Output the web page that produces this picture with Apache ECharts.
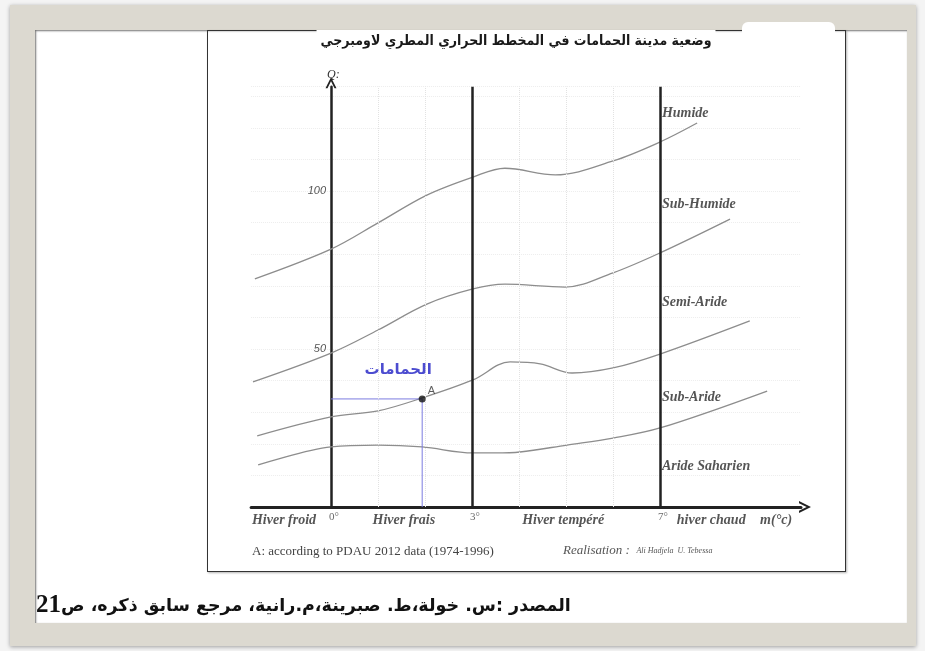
<!DOCTYPE html>
<html><head><meta charset="utf-8">
<script src="https://cdn.jsdelivr.net/npm/echarts@6/dist/echarts.min.js"></script>
<style>
html,body{margin:0;padding:0;background:#f4f4f4;width:925px;height:651px;overflow:hidden}
#bezel{position:absolute;left:10px;top:5px;width:906px;height:641px;background:#dcd9d0;box-shadow:0 1px 4px rgba(0,0,0,0.35)}
#paper{position:absolute;left:35px;top:30px;width:872px;height:593px;background:#fff;box-shadow:inset 1px 1px 2px rgba(0,0,0,0.55)}
#frame{position:absolute;left:207px;top:30px;width:637px;height:540px;border:1.5px solid #333;box-shadow:1px 1px 2px rgba(0,0,0,.3)}
#patch{position:absolute;left:742px;top:22px;width:93px;height:18px;background:#fff;border-radius:6px}
#chart{position:absolute;left:0;top:0;width:925px;height:651px}
</style></head>
<body>
<div id="bezel"></div><div id="paper"></div><div id="frame"></div><div id="patch"></div>
<div id="chart"></div>
<script>
// ---- data (m in °C, Q Emberger quotient) ----
const curveHumide = [[-1.62,72.2],[0,81.6],[1,89.9],[2.04,98.7],[3.02,104.4],[3.7,107.2],[4.77,105.1],[6,109.5],[7,115.5],[7.79,121.5]];
const curveSubHumide = [[-1.66,39.6],[0,48.7],[1,56.0],[2.04,64.2],[3.02,69.0],[3.7,70.5],[4.98,69.6],[6,74.1],[7,80.4],[8.49,91.1]];
const curveSemiAride = [[-1.57,22.5],[0,28.5],[1,30.4],[1.94,34.5],[3.02,40.2],[3.81,45.9],[4.45,45.3],[5.13,42.4],[6,44.0],[7,48.4],[8.91,58.9]];
const curveSubAride = [[-1.55,13.3],[0,19.0],[1,19.6],[1.94,19.0],[3.02,17.1],[3.49,17.1],[4.02,17.4],[5.02,19.6],[6,21.8],[7,25.0],[9.28,36.7]];

const stationName = 'الحمامات';
const stationA = [1.94, 34.2];
const stationLabelPos = [1.43, 43.4];

const zoneNames = ['Humide','Sub-Humide','Semi-Aride','Sub-Aride','Aride Saharien'];
const zoneLabelM = 7.04;
const zoneLabelQ = [124.7, 95.6, 64.6, 34.8, 12.7];

const winterNames = ['Hiver froid','Hiver frais','Hiver tempéré','hiver chaud','m(°c)'];
const winterLabelM = [-1.0, 1.55, 4.94, 8.09, 9.47];
const winterLabelQ = -4.1;

const boundaryM = [3, 7];
const degreeTicks = [0, 3, 7];
const degreeLabelQ = -3.3;
const gridM = [1, 2, 4, 5, 6];
const yLabels = [50, 100];

const titleText = 'وضعية مدينة الحمامات في المخطط الحراري المطري لاومبرجي';
const noteText = 'A: according to PDAU 2012 data (1974-1996)';
const sourceText = 'المصدر :س. خولة،ط. صبرينة،م.رانية، مرجع سابق ذكره، ص';
const sourcePage = '21';

// ---- chart ----
const chev = 'path://M0,10 L5,0 L10,10 L8.2,10 L5,3.6 L1.8,10 Z';
const serifBI = {fontFamily:'Liberation Serif', fontWeight:'bold', fontStyle:'italic', color:'#2a2a2a'};
const curveStyle = {color:'#8d8d8d', width:1.3};
function curve(name, d){
  return {name, type:'line', data:d, smooth:0.35, showSymbol:false, symbol:'none',
    lineStyle:curveStyle, silent:true, z:3};
}
const chart = echarts.init(document.getElementById('chart'), null, {renderer:'canvas'});
const option = {
  animation:false,
  backgroundColor:'transparent',
  grid:{left:251.1, right:124, top:86.7, bottom:144},
  xAxis:{type:'value', min:-1.7, max:10,
    axisLine:{onZero:true, symbol:['none', chev], symbolSize:[12,14], symbolOffset:[0,4], lineStyle:{color:'#222', width:3}},
    axisTick:{show:false}, axisLabel:{show:false}, splitLine:{show:false}},
  yAxis:{type:'value', min:0, max:133, interval:10, offset:0,
    name:'Q:', nameLocation:'end', nameGap:6,
    nameTextStyle:{fontFamily:'Liberation Serif', fontStyle:'italic', fontSize:12, color:'#333', align:'left', padding:[0,0,0,-4]},
    axisLine:{onZero:false, symbol:['none', chev], symbolSize:[11,13], symbolOffset:[0,4], lineStyle:{color:'#222', width:2.5}},
    axisTick:{show:false},
    axisLabel:{formatter:v => yLabels.includes(v) ? String(v) : '', color:'#555', fontStyle:'italic', fontFamily:'Liberation Sans', fontSize:11, margin:5},
    splitLine:{show:true, lineStyle:{color:'#ededed', type:'dotted', width:1}}},
  series:[
    {type:'line', data:[], silent:true, z:1,
      markLine:{silent:true, symbol:'none', label:{show:false},
        lineStyle:{color:'#e2e2e2', type:'dotted', width:1},
        data:gridM.map(v => ({xAxis:v}))}},
    curve('Humide', curveHumide),
    curve('Sub-Humide', curveSubHumide),
    curve('Semi-Aride', curveSemiAride),
    curve('Sub-Aride', curveSubAride),
    {type:'line', data:[], silent:true, z:5,
      markLine:{silent:true, symbol:'none', label:{show:false},
        lineStyle:{color:'#222', type:'solid', width:2.5},
        data:boundaryM.map(v => ({xAxis:v}))}},
    {type:'line', data:[[0, stationA[1]], stationA, [stationA[0], 0]], symbol:'none', silent:true, z:4,
      lineStyle:{color:'#7b7be0', width:1}},
    {type:'scatter', data:[stationA], symbolSize:7, itemStyle:{color:'#111'}, z:6, silent:true,
      label:{show:true, formatter:'A', position:'right', distance:2, offset:[0,-8], color:'#333', fontFamily:'Liberation Sans', fontSize:11}},
    {type:'scatter', clip:false, silent:true, symbolSize:0, z:7,
      data:[{name:stationName, value:stationLabelPos}],
      label:{show:true, formatter:'{b}', position:[0,0], align:'center', verticalAlign:'middle',
        color:'#1f1fc4', fontFamily:'DejaVu Sans', fontWeight:'bold', fontSize:15}},
    {type:'scatter', clip:false, silent:true, symbolSize:0, z:7,
      data:zoneNames.map((n,i) => ({name:n, value:[zoneLabelM, zoneLabelQ[i]]})),
      label:{show:true, formatter:'{b}', position:[0,0], align:'left', verticalAlign:'middle', fontSize:14, ...serifBI}},
    {type:'scatter', clip:false, silent:true, symbolSize:0, z:7,
      data:winterNames.map((n,i) => ({name:n, value:[winterLabelM[i], winterLabelQ]})),
      label:{show:true, formatter:'{b}', position:[0,0], align:'center', verticalAlign:'middle', fontSize:14, ...serifBI}},
    {type:'scatter', clip:false, silent:true, symbolSize:0, z:7,
      data:degreeTicks.map(v => ({name:v + '°', value:[v, degreeLabelQ]})),
      label:{show:true, formatter:'{b}', position:[0,0], offset:[3,0], align:'center', verticalAlign:'middle',
        fontFamily:'Liberation Serif', fontSize:11, color:'#444'}}
  ],
  graphic:[
    {type:'text', x:516, y:41, silent:true, z:10,
      style:{text:titleText, align:'center', verticalAlign:'middle', fill:'#1a1a1a', font:'bold 14px "DejaVu Sans Condensed", "DejaVu Sans"',
        backgroundColor:'#fff', padding:[3,4,5,4]}},
    {type:'text', x:252, y:552, silent:true,
      style:{text:noteText, align:'left', verticalAlign:'middle', fill:'#444', font:'13px "Liberation Serif"'}},
    {type:'text', x:563, y:551, silent:true,
      style:{text:'{r|Realisation :}  {s|Ali Hadjela  U. Tebessa}', align:'left', verticalAlign:'middle',
        rich:{r:{font:'italic 13px "Liberation Serif"', fill:'#555'}, s:{font:'italic 8px "Liberation Serif"', fill:'#555'}}}},
    {type:'text', x:36, y:606, silent:true,
      style:{text:'{n|' + sourcePage + '}{t|' + sourceText + '}', align:'left', verticalAlign:'middle',
        rich:{n:{font:'bold 25px "Liberation Serif"', fill:'#111'}, t:{font:'bold 17.5px "DejaVu Sans"', fill:'#111'}}}}
  ]
};
chart.setOption(option);
// place the Q axis on m = 0 using the x scale
const zeroX = chart.convertToPixel({xAxisIndex:0}, 0);
const gridLeft = chart.convertToPixel({xAxisIndex:0}, -1.7);
chart.setOption({yAxis:{offset:-(zeroX - gridLeft)}});
</script>
</body></html>
